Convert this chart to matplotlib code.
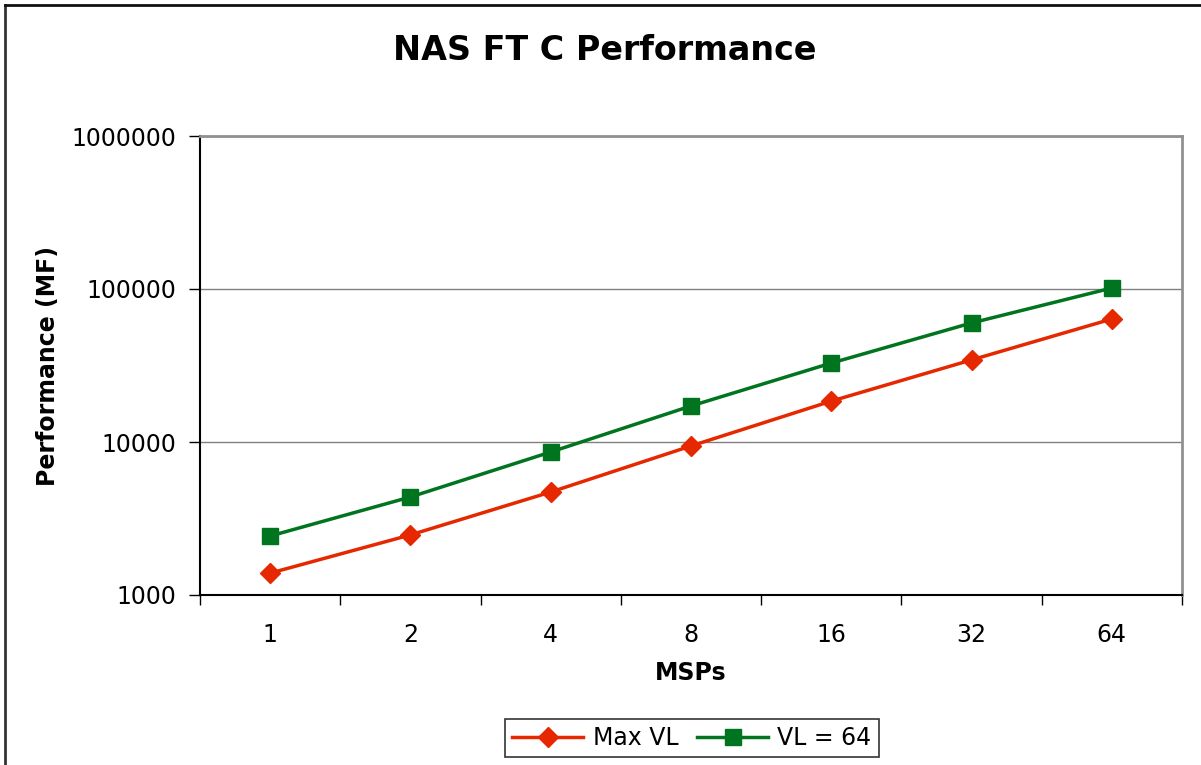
import numpy as np
import matplotlib.pyplot as plt
from matplotlib.ticker import FixedLocator, NullFormatter, FuncFormatter, NullLocator

# data (log scale)
msps = ["1", "2", "4", "8", "16", "32", "64"]
max_vl = [1390, 2470, 4710, 9420, 18500, 34400, 63700]
vl_64 = [2430, 4370, 8600, 17200, 32800, 60000, 101500]

red = "#E62800"
green = "#00741E"

fig = plt.figure(figsize=(12.01, 7.65), dpi=100)
ax = fig.add_axes([200 / 1201, 170 / 765, 982 / 1201, 459 / 765])

x = np.arange(len(msps))
ax.plot(x, max_vl, color=red, lw=2.5, marker="D", ms=10, label="Max VL", clip_on=False)
ax.plot(x, vl_64, color=green, lw=2.5, marker="s", ms=11, label="VL = 64", clip_on=False)

ax.set_yscale("log")
ax.set_ylim(1000, 1000000)
ax.yaxis.set_major_locator(FixedLocator([1000, 10000, 100000, 1000000]))
ax.yaxis.set_minor_locator(NullLocator())
ax.yaxis.set_major_formatter(FuncFormatter(lambda v, p: f"{int(round(v))}"))
ax.grid(axis="y", color="#808080", lw=1)

# categories centred between tick marks, Excel style
ax.set_xlim(-0.5, len(msps) - 0.5)
ax.set_xticks(x)
ax.set_xticklabels(msps)
ax.tick_params(axis="x", which="major", length=0, pad=20)
ax.xaxis.set_minor_locator(FixedLocator(np.arange(-0.5, len(msps), 1.0)))
ax.xaxis.set_minor_formatter(NullFormatter())
ax.tick_params(axis="x", which="minor", length=7, color="black", width=1)
ax.tick_params(axis="y", length=8, width=1, pad=9)
ax.tick_params(labelsize=17)

for s in ["left", "bottom"]:
    ax.spines[s].set_color("black")
    ax.spines[s].set_linewidth(1.5)
for s in ["right", "top"]:
    ax.spines[s].set_color("#909090")
    ax.spines[s].set_linewidth(2)

ax.set_xlabel("MSPs", fontsize=17, fontweight="bold", labelpad=10)
ax.set_ylabel("Performance (MF)", fontsize=17, fontweight="bold", labelpad=8)
fig.text(605 / 1201, 1 - 50 / 765, "NAS FT C Performance", ha="center", va="center",
         fontsize=24, fontweight="bold")

leg = fig.legend(loc="center", bbox_to_anchor=(692 / 1201, 27 / 765), ncol=2,
                 fontsize=17, frameon=True, fancybox=False, edgecolor="black",
                 handlelength=3, columnspacing=0.8, handletextpad=0.4,
                 borderpad=0.3)
leg.get_frame().set_linewidth(1.2)

# chart area border (left and top visible)
fig.add_artist(plt.Line2D([5 / 1201, 5 / 1201], [0, 1 - 5 / 765], color="#333333", lw=2))
fig.add_artist(plt.Line2D([5 / 1201, 1], [1 - 5 / 765, 1 - 5 / 765], color="#111111", lw=2))

fig.savefig("out.png", dpi=100)
